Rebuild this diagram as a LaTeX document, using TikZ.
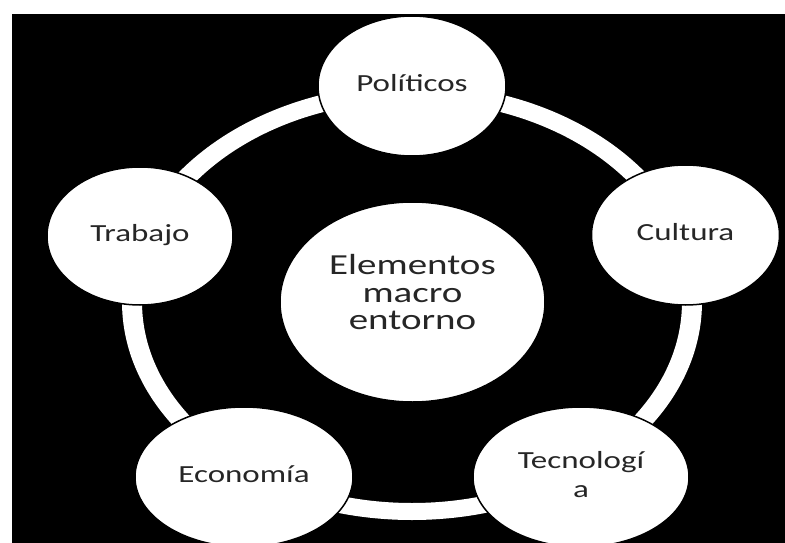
\documentclass[tikz,border=0pt]{standalone}
\usepackage{fontspec}
\usepackage{graphicx}
\setmainfont{Carlito}
\usetikzlibrary{shapes.geometric}
\newcommand\sqz[1]{\scalebox{1}[0.745]{#1}}
\tikzset{
  bubble/.style={ellipse, fill=white, draw=black, line width=1.5pt, inner sep=0pt,
    text=black!85, font=\fontsize{33}{40}\selectfont},
}
\begin{document}
\begin{tikzpicture}[x=1pt,y=-1pt]
\useasboundingbox (0,0) rectangle (785,543);
\fill[black] (12,14) rectangle (785,543);
% ring
\fill[white, even odd rule] (412,302) ellipse [x radius=290pt, y radius=218pt]
                            (412,302) ellipse [x radius=270pt, y radius=201pt];
% nodes
\node[bubble, minimum width=188pt, minimum height=140pt] (pol) at (412,86) {\sqz{\strut Políticos}};
\node[bubble, minimum width=188pt, minimum height=140pt] (cul) at (685.5,235) {\sqz{\strut Cultura}};
\node[bubble, minimum width=186pt, minimum height=138pt] (tra) at (140,236) {\sqz{\strut Trabajo}};
\node[bubble, minimum width=218pt, minimum height=140pt] (eco) at (244,477) {\sqz{\strut Economía}};
\node[bubble, minimum width=216pt, minimum height=140pt, font=\fontsize{33}{39}\selectfont] (tec) at (581,477)
  {\sqz{\begin{tabular}{@{}c@{}}Tecnologí\\a\end{tabular}}};
\node[bubble, minimum width=265pt, minimum height=200pt, font=\fontsize{39}{37}\selectfont] (cen) at (412.5,302)
  {\sqz{\raisebox{0pt}[\height][\dimexpr\depth+15pt\relax]{\begin{tabular}{@{}c@{}}Elementos\\macro\\entorno\end{tabular}}}};
\end{tikzpicture}
\end{document}
